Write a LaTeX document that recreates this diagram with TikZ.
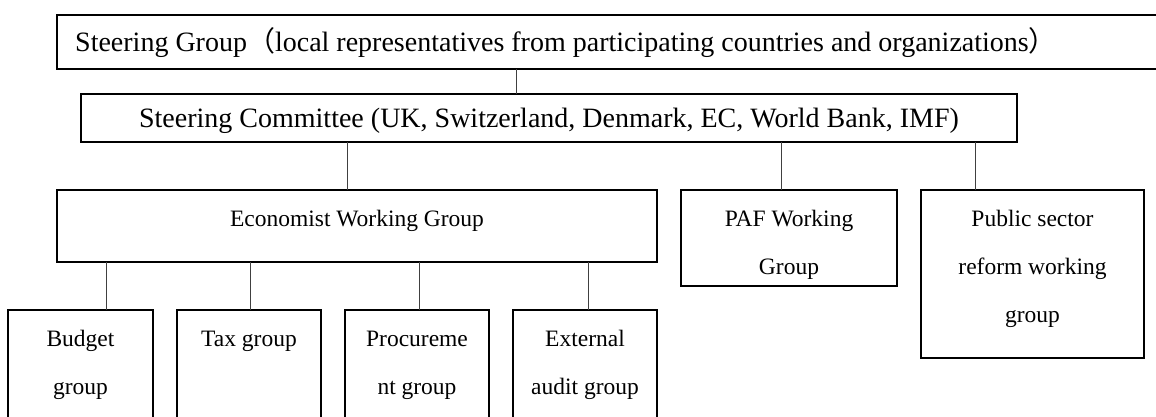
\documentclass[tikz,border=0pt]{standalone}
\usepackage{fontspec}
\setmainfont{Liberation Serif}
\newfontfamily\cjk{Noto Sans CJK SC}
\begin{document}
\begin{tikzpicture}[x=1pt,y=-1pt,
  box/.style={draw=black, line width=1.4pt, rectangle, inner sep=0pt, outer sep=0pt, anchor=north west},
  link/.style={draw=black!75, line width=1pt},
  bigtxt/.style={inner sep=0pt, font=\fontsize{28}{34}\selectfont},
  smalltxt/.style={inner sep=0pt, align=center, font=\fontsize{23.5}{48}\selectfont, anchor=base}]
\useasboundingbox (0,0) rectangle (1156,417);
\clip (0,0) rectangle (1156,417);
% boxes
\node[box, minimum width=1200pt, minimum height=54pt] (sg) at (57,15) {};
\node[box, minimum width=936pt, minimum height=48pt] (sc) at (81,94) {};
\node[box, minimum width=600pt, minimum height=72pt] (ewg) at (57,190) {};
\node[box, minimum width=216pt, minimum height=96pt] (paf) at (681,190) {};
\node[box, minimum width=223pt, minimum height=168pt] (psr) at (921,190) {};
\node[box, minimum width=145pt, minimum height=140pt] (bud) at (8,310) {};
\node[box, minimum width=144pt, minimum height=140pt] (tax) at (177,310) {};
\node[box, minimum width=144pt, minimum height=140pt] (proc) at (345,310) {};
\node[box, minimum width=144pt, minimum height=140pt] (ext) at (513,310) {};
% texts (anchor = baseline of the last line)
\node[bigtxt, anchor=base west] (sgT) at (75,52) {Steering Group{\cjk （}local representatives from participating countries and organizations{\cjk ）}};
\node[bigtxt, anchor=base] (scT) at (549,128) {Steering Committee (UK, Switzerland, Denmark, EC, World Bank, IMF)};
\node[smalltxt] (ewgT) at (357,226) {Economist Working Group};
\node[smalltxt] (pafT) at (789,274) {PAF Working\\Group};
\node[smalltxt] (psrT) at (1032.5,322) {Public sector\\reform working\\group};
\node[smalltxt] (budT) at (80.5,394) {Budget\\group};
\node[smalltxt] (taxT) at (249,346) {Tax group};
\node[smalltxt] (procT) at (417,394) {Procureme\\nt group};
\node[smalltxt] (extT) at (585,394) {External\\audit group};
% connector columns
\coordinate (k1) at (516,0);
\coordinate (k2) at (347,0);
\coordinate (k3) at (781,0);
\coordinate (k4) at (975,0);
\coordinate (k5) at (106,0);
\coordinate (k6) at (250,0);
\coordinate (k7) at (419,0);
\coordinate (k8) at (588,0);
\draw[link] (sg.south -| k1) -- (sc.north -| k1);
\draw[link] (sc.south -| k2) -- (ewg.north -| k2);
\draw[link] (sc.south -| k3) -- (paf.north -| k3);
\draw[link] (sc.south -| k4) -- (psr.north -| k4);
\draw[link] (ewg.south -| k5) -- (bud.north -| k5);
\draw[link] (ewg.south -| k6) -- (tax.north -| k6);
\draw[link] (ewg.south -| k7) -- (proc.north -| k7);
\draw[link] (ewg.south -| k8) -- (ext.north -| k8);
\end{tikzpicture}
\end{document}
